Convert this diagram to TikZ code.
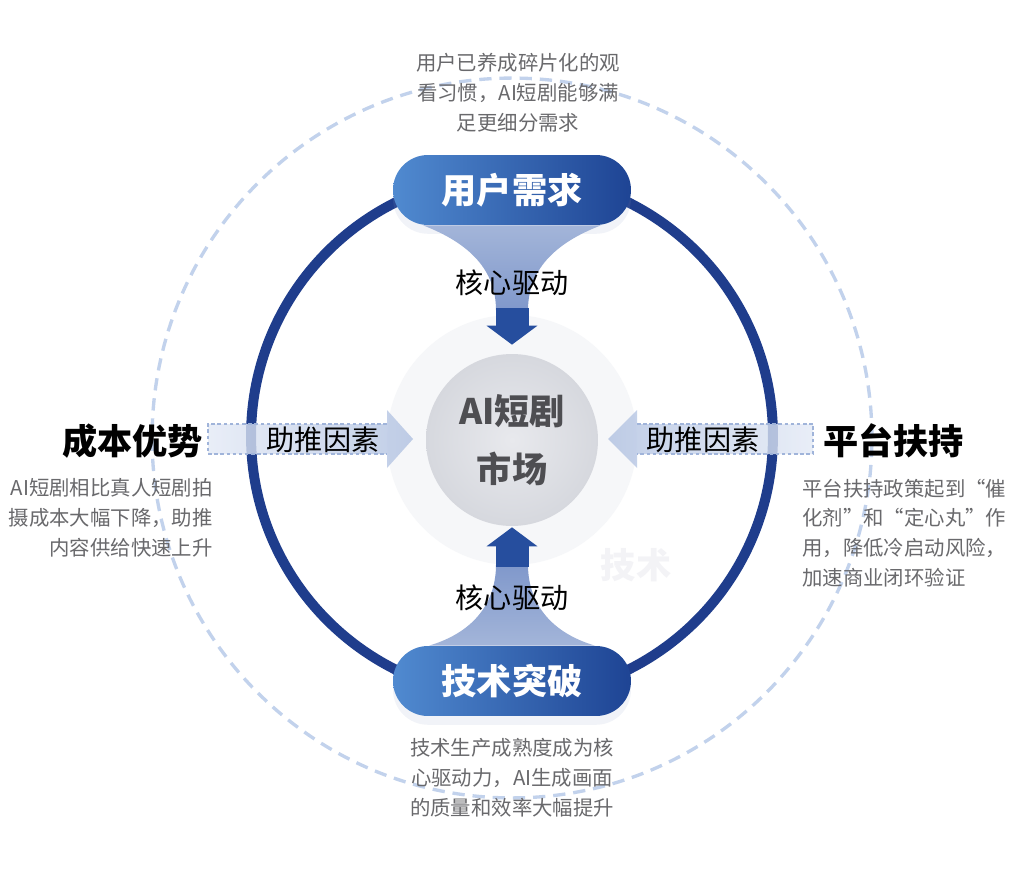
\documentclass[tikz,border=0pt]{standalone}
\usepackage{fontspec}
\setmainfont{Noto Sans CJK SC}
\usepackage{tikz}
\usetikzlibrary{arrows.meta, calc, shadows}
\definecolor{ringblue}{RGB}{31,61,140}
\definecolor{pillleft}{RGB}{80,138,208}
\definecolor{pillright}{RGB}{30,68,148}
\definecolor{dashblue}{RGB}{194,210,236}
\definecolor{funtop}{RGB}{163,181,217}
\definecolor{funmid}{RGB}{205,213,232}
\definecolor{funbot}{RGB}{128,152,203}
\definecolor{arrowdark}{RGB}{38,78,158}
\definecolor{pushlight}{RGB}{228,234,246}
\definecolor{pushdark}{RGB}{176,193,225}
\definecolor{pushedge}{RGB}{160,180,218}
\definecolor{coreinner}{RGB}{232,233,237}
\definecolor{coreouter}{RGB}{214,216,222}
\definecolor{halogray}{RGB}{246,247,249}
\definecolor{descgray}{RGB}{105,105,108}
\definecolor{coretext}{RGB}{78,78,82}
\definecolor{wmgray}{RGB}{243,243,246}
\tikzset{
  pill/.style={rectangle, rounded corners=0.7cm, minimum width=4.76cm,
    minimum height=1.4cm, left color=pillleft, right color=pillright,
    text=white, font=\fontsize{20}{24}\selectfont\bfseries,
    drop shadow={opacity=0.12, fill=pillright!50, shadow xshift=0pt, shadow yshift=-5pt}},
  corecircle/.style={circle, minimum size=3.44cm, inner color=coreinner,
    outer color=coreouter, text=coretext, align=center,
    font=\fontsize{20}{33}\selectfont\bfseries},
  title/.style={inner sep=0pt, font=\fontsize{20}{24}\selectfont\bfseries},
  flowlabel/.style={inner sep=0pt, font=\fontsize{16}{20}\selectfont},
  desc/.style={inner sep=0pt, text=descgray, font=\fontsize{11.6}{17}\selectfont},
  ring/.style={draw=ringblue, line width=0.2cm},
  outerring/.style={draw=dashblue, line width=1.9pt, dash pattern=on 7pt off 4.5pt},
  funneldown/.style={top color=funtop, middle color=funmid, bottom color=funbot},
  funnelup/.style={top color=funbot, middle color=funmid, bottom color=funtop},
  corearrow/.style={draw=arrowdark, line width=0.66cm, -{Triangle[width=1cm,length=0.38cm]}},
  pushright/.style={left color=pushlight, right color=pushdark, fill opacity=0.8},
  pushleft/.style={left color=pushdark, right color=pushlight, fill opacity=0.8},
  pushline/.style={draw=pushedge, line width=0.6pt, dash pattern=on 2pt off 1.5pt}
}

\begin{document}
\begin{tikzpicture}[x=0.02cm, y=-0.02cm]
  \useasboundingbox[fill=white] (0,0) rectangle (1032,872);

  \draw[outerring] (512,438) circle[radius=7.2cm];
  \fill[halogray] (512,440) circle[radius=2.5cm];
  \draw[ring] (512,436) circle[radius=5.22cm];

  \node[wmgray, font=\fontsize{20}{24}\selectfont\bfseries] (mark) at (636,565) {技术};

  \node[corecircle] (market) at (512,440) {AI短剧\\市场};
  \node[pill] (user) at (512,190) {用户需求};
  \node[pill] (tech) at (512,681) {技术突破};

  \begin{scope}[shift={(user.south)}]
    \shade[funneldown] (-89,0) .. controls (-42,18) and (-16,45) .. (-16,85)
      -- (16,85) .. controls (16,45) and (42,18) .. (89,0) -- cycle;
  \end{scope}
  \begin{scope}[shift={(tech.north)}]
    \shade[funnelup] (-83,0) .. controls (-36,-14) and (-16,-45) .. (-16,-81)
      -- (16,-81) .. controls (16,-45) and (36,-14) .. (83,0) -- cycle;
  \end{scope}
  \draw[corearrow] ($(user.south)+(0,83)$) -- ($(market.north)+(0,-9)$);
  \draw[corearrow] ($(tech.north)+(0,-79)$) -- ($(market.south)+(0,1)$);

  \node[flowlabel] (driveU) at (512,283) {核心驱动};
  \node[flowlabel] (driveT) at (512,598) {核心驱动};

  \node[title, anchor=east] (cost) at (203,441) {成本优势};
  \node[title, anchor=west] (platform) at (823,441) {平台扶持};

  \begin{scope}[shift={($(cost.east)+(0,-2)$)}]
    \path[pushright] (5,-15) -- (184,-15) -- (184,-29) -- (210,0)
      -- (184,29) -- (184,15) -- (5,15) -- cycle;
    \draw[pushline] (184,-15) -- (5,-15) -- (5,15) -- (184,15);
  \end{scope}
  \begin{scope}[shift={($(platform.west)+(0,-2)$)}]
    \path[pushleft] (-10,-15) -- (-186,-15) -- (-186,-29) -- (-215,0)
      -- (-186,29) -- (-186,15) -- (-10,15) -- cycle;
    \draw[pushline] (-186,-15) -- (-10,-15) -- (-10,15) -- (-186,15);
  \end{scope}

  \node[flowlabel] (pushL) at (323,440) {助推因素};
  \node[flowlabel] (pushR) at (703,440) {助推因素};

  \node[desc, align=center] (userdesc) at (518,93)
    {用户已养成碎片化的观\\看习惯，AI短剧能够满\\足更细分需求};
  \node[desc, align=right, anchor=east] (costdesc) at (213,518)
    {AI短剧相比真人短剧拍\\摄成本大幅下降，助推\\内容供给快速上升};
  \node[desc, align=left, anchor=west] (platdesc) at (802,533)
    {平台扶持政策起到“催\\化剂”和“定心丸”作\\用，降低冷启动风险，\\加速商业闭环验证};
  \node[desc, align=center] (techdesc) at (512,778)
    {技术生产成熟度成为核\\心驱动力，AI生成画面\\的质量和效率大幅提升};
\end{tikzpicture}
\end{document}
